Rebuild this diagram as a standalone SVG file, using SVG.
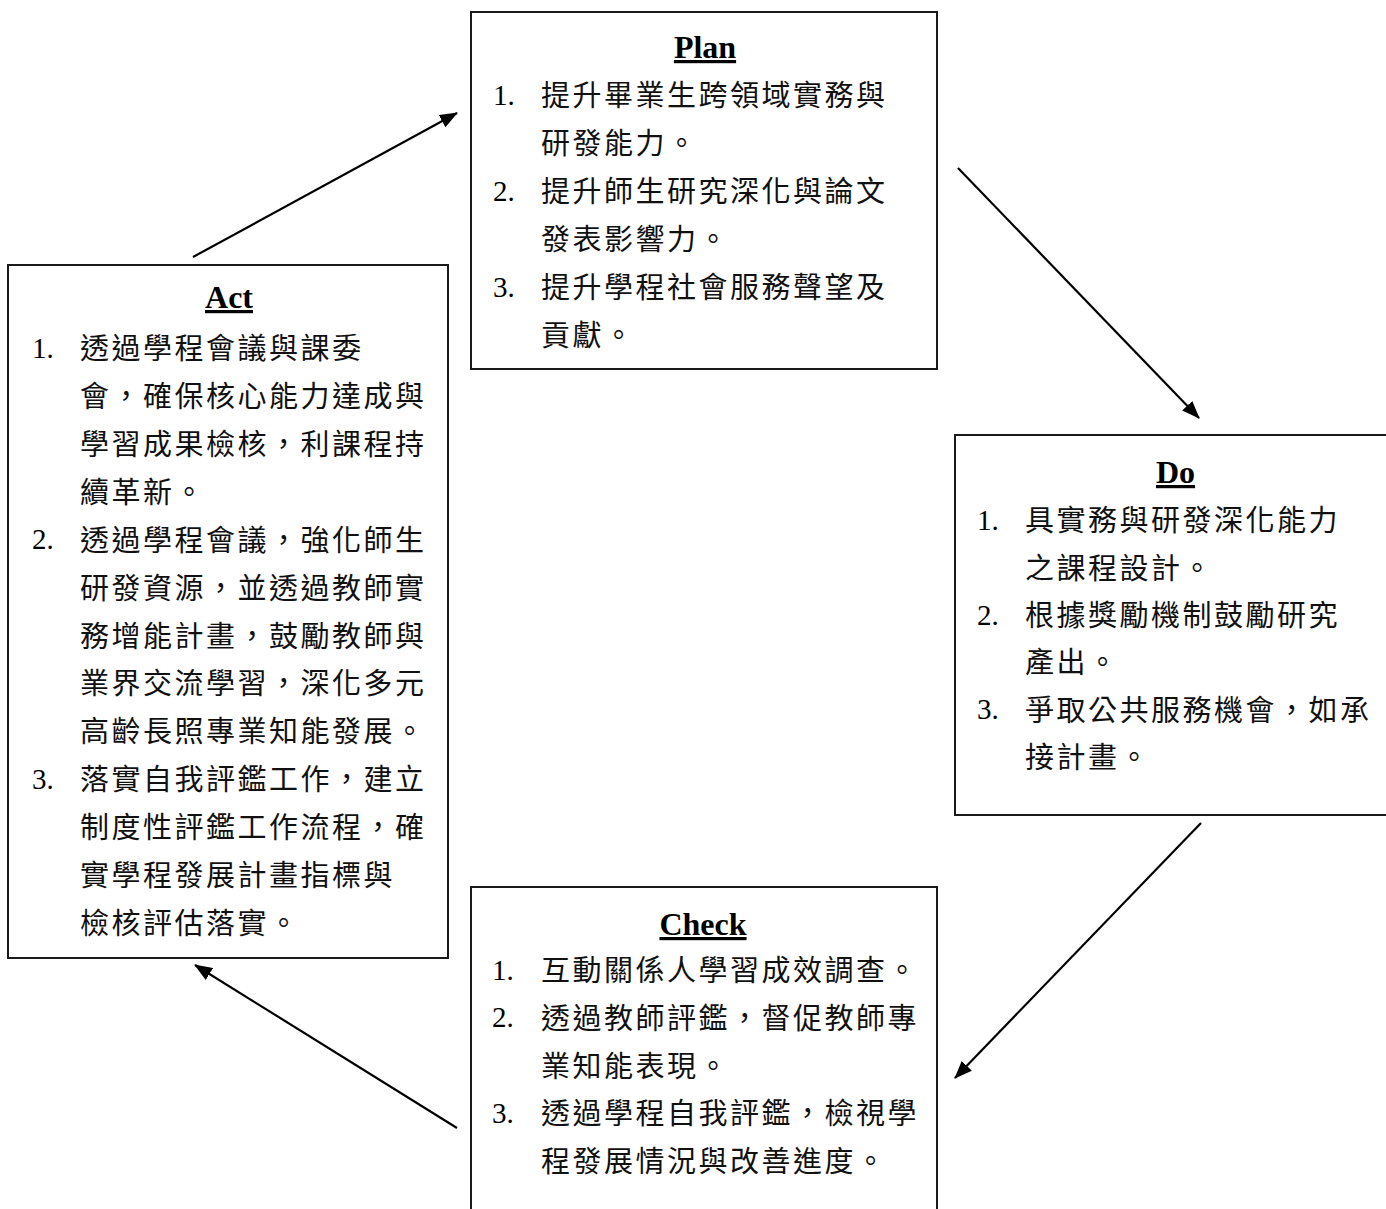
<svg xmlns="http://www.w3.org/2000/svg" width="1386" height="1209" viewBox="0 0 1386 1209">
<style>
.box{fill:#fff;stroke:#1a1a1a;stroke-width:2}
.title{font-family:"Liberation Serif","Times New Roman",serif;font-weight:bold;font-size:32px;text-anchor:middle;text-decoration:underline;fill:#000}
.num{font-family:"Liberation Serif","Times New Roman",serif;font-size:29px;fill:#000}
.t{font-family:"Noto Sans CJK TC","Noto Sans CJK SC",sans-serif;font-size:29px;letter-spacing:2.5px;fill:#111}
.conn{stroke:#000;stroke-width:2.2;fill:none;marker-end:url(#ah)}
</style>
<defs>
<marker id="ah" markerUnits="userSpaceOnUse" markerWidth="18" markerHeight="14" refX="17" refY="7" orient="auto">
<path d="M0,0 L18,7 L0,14 Z" fill="#000"/>
</marker>
</defs>
<rect width="1386" height="1209" fill="#fff"/>
<g id="connectors">
<line class="conn" x1="193" y1="257" x2="457" y2="113"/>
<line class="conn" x1="958" y1="168" x2="1199" y2="418"/>
<line class="conn" x1="1201" y1="823" x2="955" y2="1078"/>
<line class="conn" x1="457" y1="1128" x2="195" y2="965"/>
</g>
<g id="plan">
<rect class="box" x="471" y="12" width="466" height="357"/>
<text class="title" x="705" y="58">Plan</text>
<text class="num" x="493" y="104.5">1.</text>
<text class="t" x="541" y="106">提升畢業生跨領域實務與</text>
<text class="t" x="541" y="154">研發能力。</text>
<text class="num" x="493" y="200.5">2.</text>
<text class="t" x="541" y="202">提升師生研究深化與論文</text>
<text class="t" x="541" y="250">發表影響力。</text>
<text class="num" x="493" y="296.5">3.</text>
<text class="t" x="541" y="298">提升學程社會服務聲望及</text>
<text class="t" x="541" y="346">貢獻。</text>
</g>
<g id="do">
<rect class="box" x="955" y="435" width="440" height="380"/>
<text class="title" x="1175.5" y="483">Do</text>
<text class="num" x="977" y="529.5">1.</text>
<text class="t" x="1025" y="531">具實務與研發深化能力</text>
<text class="t" x="1025" y="578.5">之課程設計。</text>
<text class="num" x="977" y="624.5">2.</text>
<text class="t" x="1025" y="626">根據獎勵機制鼓勵研究</text>
<text class="t" x="1025" y="673">產出。</text>
<text class="num" x="977" y="719">3.</text>
<text class="t" x="1025" y="720.5">爭取公共服務機會，如承</text>
<text class="t" x="1025" y="768">接計畫。</text>
</g>
<g id="check">
<rect class="box" x="471" y="887" width="466" height="340"/>
<text class="title" x="703" y="935">Check</text>
<text class="num" x="492" y="979.5">1.</text>
<text class="t" x="541" y="981">互動關係人學習成效調查。</text>
<text class="num" x="492" y="1027">2.</text>
<text class="t" x="541" y="1029">透過教師評鑑，督促教師專</text>
<text class="t" x="541" y="1076.5">業知能表現。</text>
<text class="num" x="492" y="1122.5">3.</text>
<text class="t" x="541" y="1124">透過學程自我評鑑，檢視學</text>
<text class="t" x="541" y="1172">程發展情況與改善進度。</text>
</g>
<g id="act">
<rect class="box" x="8" y="265" width="440" height="693"/>
<text class="title" x="229" y="308">Act</text>
<text class="num" x="32" y="357.5">1.</text>
<text class="t" x="80" y="359">透過學程會議與課委</text>
<text class="t" x="80" y="407">會，確保核心能力達成與</text>
<text class="t" x="80" y="455">學習成果檢核，利課程持</text>
<text class="t" x="80" y="503">續革新。</text>
<text class="num" x="32" y="549">2.</text>
<text class="t" x="80" y="551">透過學程會議，強化師生</text>
<text class="t" x="80" y="598.5">研發資源，並透過教師實</text>
<text class="t" x="80" y="646.5">務增能計畫，鼓勵教師與</text>
<text class="t" x="80" y="694">業界交流學習，深化多元</text>
<text class="t" x="80" y="742">高齡長照專業知能發展。</text>
<text class="num" x="32" y="788.5">3.</text>
<text class="t" x="80" y="790">落實自我評鑑工作，建立</text>
<text class="t" x="80" y="838">制度性評鑑工作流程，確</text>
<text class="t" x="80" y="886">實學程發展計畫指標與</text>
<text class="t" x="80" y="934">檢核評估落實。</text>
</g>
</svg>
